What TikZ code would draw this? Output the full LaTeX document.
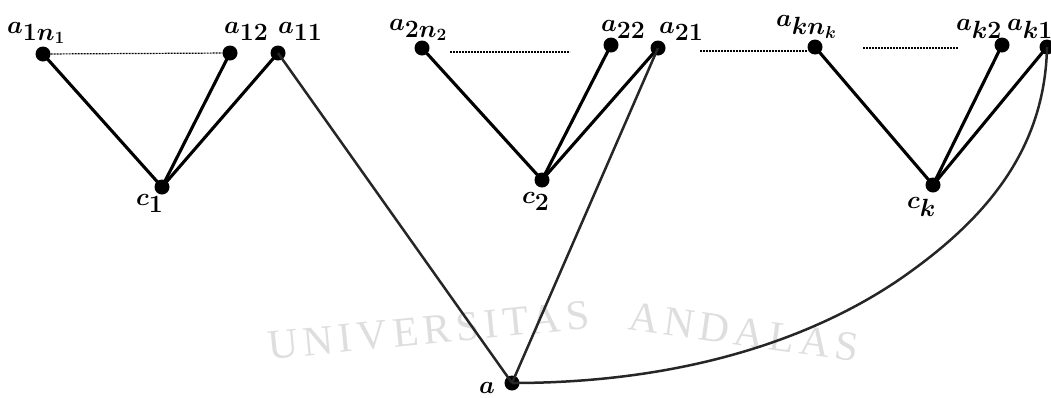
\documentclass[tikz,border=0pt]{standalone}
\usepackage{fontspec}
\newfontfamily\wmfont[LetterSpace=12]{Liberation Serif}
\begin{document}
\begin{tikzpicture}[x=1pt,y=-1pt,
  vtx/.style={circle,fill=black,inner sep=0pt,minimum size=15pt},
  edge/.style={line width=3.1pt},
  farEdge/.style={line width=2.5pt,black!85},
  dotline/.style={line width=1.2pt,dash pattern=on 2pt off 1pt},
  lbl/.style={inner sep=0pt,anchor=base west,font=\fontsize{33}{35}\selectfont\boldmath},
  wm/.style={inner sep=0pt,anchor=base,text=black!13,font=\wmfont\fontsize{42}{42}\selectfont}]
\useasboundingbox (0,0) rectangle (1051,397);
% faint watermark
\node[wm,rotate=5.6] (wm1) at (430,344) {UNIVERSITAS};
\node[wm,rotate=-8] (wm2) at (742,346) {ANDALAS};
% vertices
\node[vtx] (a1n) at (43,54) {};
\node[vtx] (a12) at (230,53) {};
\node[vtx] (a11) at (278,53) {};
\node[vtx] (c1) at (162,187) {};
\node[vtx] (a2n) at (422,48) {};
\node[vtx] (a22) at (611,45) {};
\node[vtx] (a21) at (658,48) {};
\node[vtx] (c2) at (542,180) {};
\node[vtx] (akn) at (815,47) {};
\node[vtx] (ak2) at (1002,45) {};
\node[vtx] (ak1) at (1047,47) {};
\node[vtx] (ck) at (933,185) {};
\node[vtx] (a) at (512,383) {};
% labels
\node[lbl] (la1n) at (7,33) {$a_{1n_1}$};
\node[lbl] (la12) at (224,33) {$a_{12}$};
\node[lbl] (la11) at (278,33) {$a_{11}$};
\node[lbl] (lc1) at (136,205) {$c_1$};
\node[lbl] (la2n) at (389,30) {$a_{2n_2}$};
\node[lbl] (la22) at (601,31) {$a_{22}$};
\node[lbl] (la21) at (659,33) {$a_{21}$};
\node[lbl] (lc2) at (522,203) {$c_2$};
\node[lbl] (lakn) at (776,26) {$a_{kn_k}$};
\node[lbl] (lak2) at (956,30) {$a_{k2}$};
\node[lbl] (lak1) at (1007,30) {$a_{k1}$};
\node[lbl] (lck) at (907,208) {$c_k$};
\node[lbl] (la) at (479,393) {$a$};
% dotted segments
\coordinate (d2s) at (450,52); \coordinate (d2e) at (570,52);
\coordinate (d3s) at (700,51); \coordinate (d3e) at (808,51);
\coordinate (d4s) at (863,48); \coordinate (d4e) at (958,48);
\draw[dotline] (a1n) -- (a12);
\draw[dotline] (d2s) -- (d2e);
\draw[dotline] (d3s) -- (d3e);
\draw[dotline] (d4s) -- (d4e);
% edges
\draw[edge] (a1n.center) -- (c1.center);
\draw[edge] (a12.center) -- (c1.center);
\draw[edge] (a11.center) -- (c1.center);
\draw[edge] (a2n.center) -- (c2.center);
\draw[edge] (a22.center) -- (c2.center);
\draw[edge] (a21.center) -- (c2.center);
\draw[edge] (akn.center) -- (ck.center);
\draw[edge] (ak2.center) -- (ck.center);
\draw[edge] (ak1.center) -- (ck.center);
\draw[farEdge] (a11.center) -- (a.center);
\draw[farEdge] (a21.center) -- (a.center);
\draw[farEdge] (a.center) .. controls (700,383) and (830,330) .. (910,272)
  .. controls (985,218) and (1045,150) .. (ak1.center);
\end{tikzpicture}
\end{document}
